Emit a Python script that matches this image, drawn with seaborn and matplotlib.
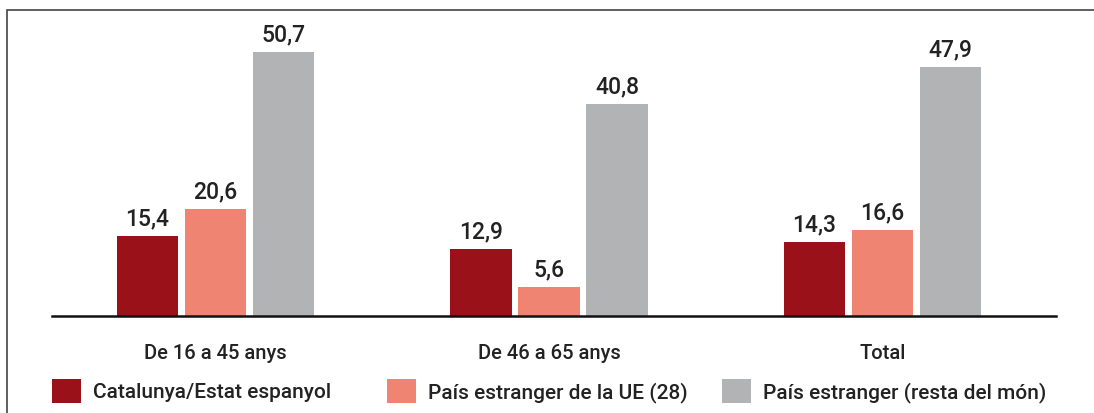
import pandas as pd
import matplotlib.pyplot as plt
import seaborn as sns
from matplotlib.patches import Patch, Rectangle

groups = ['De 16 a 45 anys', 'De 46 a 65 anys', 'Total']
series = ['Catalunya/Estat espanyol', 'País estranger de la UE (28)', 'País estranger (resta del món)']
catalunya = [15.4, 12.9, 14.3]
ue = [20.6, 5.6, 16.6]
resta = [50.7, 40.8, 47.9]
colors = ['#9B111A', '#EE8471', '#B2B3B5']

rows = []
for s, vals in zip(series, [catalunya, ue, resta]):
    for g, v in zip(groups, vals):
        rows.append({'grup': g, 'origen': s, 'valor': v})
df = pd.DataFrame(rows)

sns.set_style('white')
plt.rcParams['font.family'] = ['Roboto', 'DejaVu Sans']
plt.rcParams['font.weight'] = 'medium'

W, H = 1094, 413
fig = plt.figure(figsize=(W / 100, H / 100), dpi=100)
ax = fig.add_axes([52 / W, (H - 316) / H, (1056 - 52) / W, (316 - 19.6) / H])

sns.barplot(data=df, x='grup', y='valor', hue='origen', hue_order=series,
            palette=colors, saturation=1, width=0.612, gap=0.1,
            legend=False, ax=ax, edgecolor='none')

for cont in ax.containers:
    ax.bar_label(cont, labels=[f"{b.get_height():.1f}".replace('.', ',') for b in cont],
                 padding=4, fontsize=16.5, color='#222222', fontweight='medium')

ax.set_xlim(-0.49, 2.52)
ax.set_ylim(0, 57)
ax.set_xlabel('')
ax.set_ylabel('')
ax.set_yticks([])
ax.tick_params(axis='x', length=0, pad=20.5, labelsize=14.5, labelcolor='#222222')
for lbl in ax.get_xticklabels():
    lbl.set_fontweight('medium')
for sp in ['top', 'right', 'left']:
    ax.spines[sp].set_visible(False)
ax.spines['bottom'].set_color('#111111')
ax.spines['bottom'].set_linewidth(1.8)

# frame around the chart
fig.patches.append(Rectangle((7 / W, -0.1), 1.2, (H - 10) / H + 0.1,
                             transform=fig.transFigure, fill=False,
                             edgecolor='#444444', linewidth=1.2))

# legend, one entry per column position
xs = [52, 387, 722]
for x, s, c in zip(xs, series, colors):
    fig.legend(handles=[Patch(facecolor=c, edgecolor='none')], labels=[s],
               loc='lower left', bbox_to_anchor=(x / W, (H - 403) / H),
               frameon=False, prop={'size': 15, 'weight': 'medium'},
               handlelength=1.4, handleheight=1.4,
               handletextpad=0.55, borderpad=0, borderaxespad=0,
               labelcolor='#222222')

fig.savefig('out.png', dpi=100)
